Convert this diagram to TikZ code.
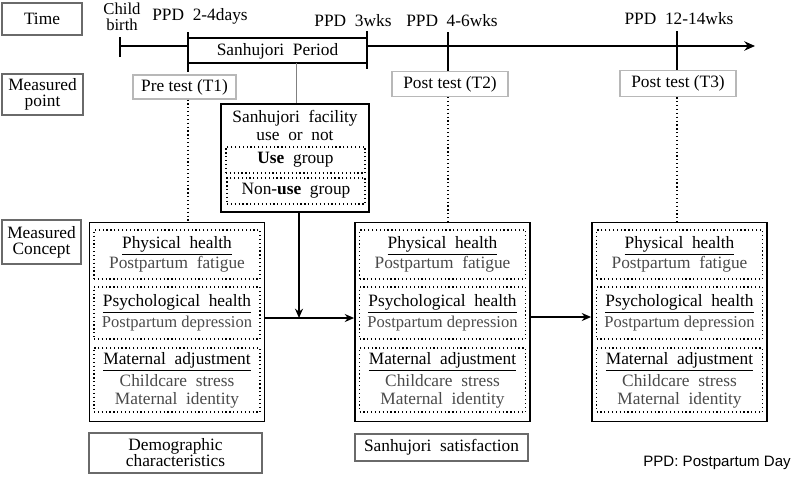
\documentclass[tikz,border=0pt]{standalone}
\usepackage{fontspec}
\setmainfont{Liberation Serif}
\newfontfamily\arialfont{Liberation Sans}
\usetikzlibrary{arrows.meta}
\definecolor{subgray}{HTML}{4A4A4A}
\definecolor{lblgray}{HTML}{6A6A6A}
\definecolor{ptgray}{HTML}{B8B8B8}
\newcommand\grtxt[1]{\textcolor{subgray}{#1}}
\begin{document}
\begin{tikzpicture}[x=0.75pt,y=-0.75pt,
  font=\fontsize{13}{15.5}\selectfont,
  lbl/.style={draw=lblgray, line width=0.8pt, align=center, inner sep=0pt, font=\fontsize{13}{12}\selectfont},
  ptbox/.style={draw=ptgray, line width=0.8pt, inner sep=0pt, fill=white, minimum height=19pt},
  outer/.style={draw, line width=1.1pt, minimum width=131.5pt, minimum height=149.25pt, inner sep=0pt},
  innerbox/.style={draw, dotted, line width=0.9pt, minimum width=124.5pt, align=center, inner sep=0pt},
  tline/.style={line width=1.5pt},
  arr/.style={line width=1.2pt, -{Stealth[length=7pt,width=6pt]}},
  plain/.style={inner sep=0pt, align=center}]
\useasboundingbox (0,0) rectangle (795,476);

% left label boxes
\node[lbl, minimum width=60pt, minimum height=24pt] (time) at (42,19) {Time};
\node[lbl, minimum width=60.75pt, minimum height=30.75pt] (mpoint) at (42.5,94.5) {Measured\\point};
\node[lbl, minimum width=59.25pt, minimum height=33pt] (mconc) at (41.5,242) {Measured\\Concept};

% timeline coordinates
\coordinate (cbT) at (120,37); \coordinate (cbB) at (120,57);
\coordinate (cb) at (120,46);
\coordinate (t1T) at (188,32); \coordinate (t1B) at (188,72); \coordinate (t1) at (188,46);
\coordinate (t2T) at (367,31); \coordinate (t2B) at (367,69); \coordinate (t2) at (367,46);
\coordinate (t3T) at (448,32); \coordinate (t3B) at (448,71);
\coordinate (t4T) at (677,31); \coordinate (t4B) at (677,70);
\coordinate (tend) at (755,46);

\draw[tline] (cbT) -- (cbB);
\draw[tline] (cb) -- (t1);
\draw[tline, -{Stealth[length=8pt,width=7pt]}] (t2) -- (tend);
\draw[tline] (t1T) -- (t1B);
\draw[tline] (t2T) -- (t2B);
\draw[tline] (t3T) -- (t3B);
\draw[tline] (t4T) -- (t4B);
\draw[tline] (188,38) -- (367,38);
\draw[tline] (188,63) -- (367,63);
\node[plain] (period) at (277.5,51) {Sanhujori\ \ Period};

% time labels
\node[plain, anchor=base, font=\fontsize{12.5}{12}\selectfont] (cbl1) at (122,14.5) {Child};
\node[plain, anchor=base, font=\fontsize{12.5}{12}\selectfont] (cbl2) at (122,30.5) {birth};
\node[plain] (l1) at (200,16.5) {PPD\ \ 2-4days};
\node[plain] (l2) at (353,21) {PPD\ \ 3wks};
\node[plain] (l3) at (452,21) {PPD\ \ 4-6wks};
\node[plain] (l4) at (679,18.5) {PPD\ \ 12-14wks};

% measured points
\node[ptbox, minimum width=77.25pt, minimum height=18pt] (pre) at (184.5,87) {Pre test\ (T1)};
\node[ptbox, minimum width=87pt] (post2) at (450,84) {Post test\ (T2)};
\node[ptbox, minimum width=87pt, minimum height=20pt] (post3) at (678,83.5) {Post test\ (T3)};

% facility box
\node[draw, line width=1.1pt, minimum width=111pt, minimum height=81pt, inner sep=0pt] (fac) at (295,158) {};
\node[plain, font=\fontsize{13}{13}\selectfont] (factxt) at (295,125.5) {Sanhujori\ \ facility\\use\ \ or\ \ not};
\node[innerbox, minimum width=104.25pt, minimum height=19.5pt] (use) at (295.5,160) {\textbf{Use}\ \ group};
\node[innerbox, minimum width=103.5pt, minimum height=19.5pt] (nonuse) at (296,191) {Non-\textbf{use}\ \ group};
\draw[gray, line width=0.6pt] (296,63) -- (fac.north -| 296,0);

% concept boxes
\foreach \n/\cx in {b1/177, b2/442.5, b3/679.5}{
  \node[outer] (\n) at (\cx,322) {};
  \node[innerbox, minimum height=36.75pt] (\n p) at (\cx,254.5)
    {\underline{Physical\ \ health}\\\grtxt{Postpartum\ \ fatigue}};
  \node[innerbox, minimum height=39pt] (\n s) at (\cx,313)
    {\underline{Psychological\ \ health}\\\grtxt{\fontsize{12.4}{15.5}\selectfont Postpartum depression}};
  \node[innerbox, minimum height=48pt, font=\fontsize{13}{13}\selectfont] (\n m) at (\cx,380)
    {\underline{Maternal\ \ adjustment}\\[2pt]\grtxt{Childcare\ \ stress}\\\grtxt{Maternal\ \ identity}};
}

% dotted connections from measured points
\draw[dotted, line width=0.9pt] (pre.south -| t1B) -- (b1.north -| t1B);
\draw[dotted, line width=0.9pt] (post2.south -| t3B) -- (b2.north -| t3B);
\draw[dotted, line width=0.9pt] (post3.south -| t4B) -- (b3.north -| t4B);

% arrows
\coordinate (j) at (299,318);
\draw[arr] (b1.east |- j) -- (b2.west |- j);
\draw[arr] (fac.south -| j) -- (j);
\draw[arr] (b2.east |- 0,317) -- (b3.west |- 0,317);

% bottom boxes
\node[lbl, minimum width=129.75pt, minimum height=30pt] (demo) at (175.5,453) {Demographic\\characteristics};
\node[lbl, minimum width=129.75pt, minimum height=20.25pt] (sat) at (441.5,447.5) {Sanhujori\ \ satisfaction};

\node[inner sep=0pt, anchor=east, font=\arialfont\fontsize{11.3}{12}\selectfont] (note) at (791,463) {PPD: Postpartum Day};
\end{tikzpicture}
\end{document}
